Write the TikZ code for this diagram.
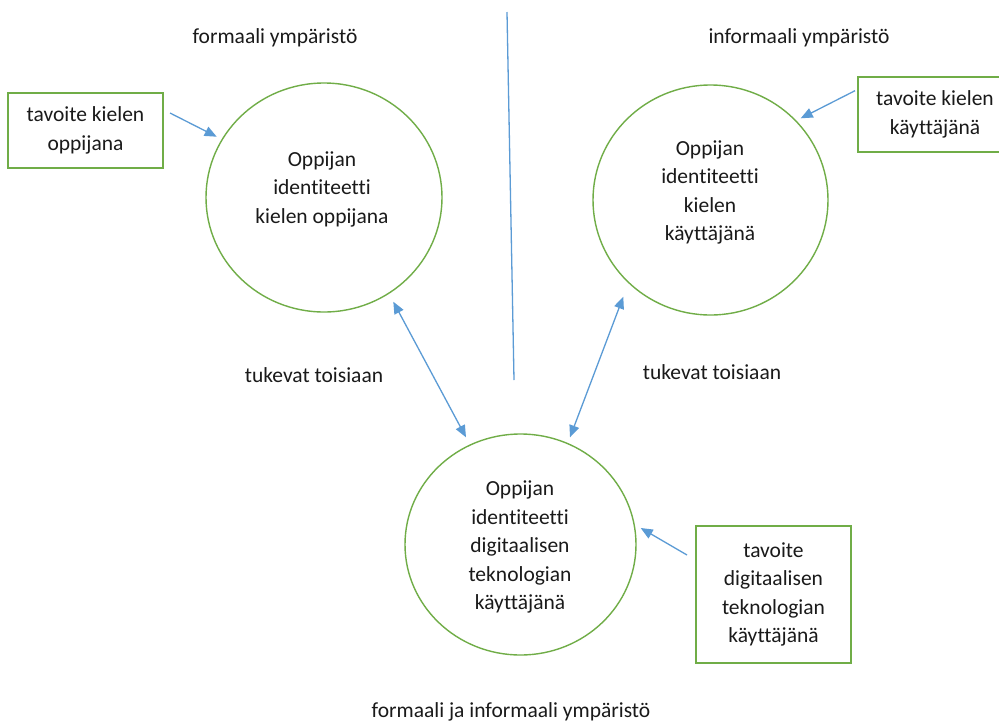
\documentclass[tikz,border=0pt]{standalone}
\usepackage{fontspec}
\setmainfont{Carlito}[Ligatures={NoCommon}]
\usetikzlibrary{arrows.meta,shapes.geometric}
\definecolor{ringgreen}{HTML}{70AD47}
\definecolor{linkblue}{HTML}{5B9BD5}
\definecolor{inktext}{HTML}{1A1A1A}
\tikzset{
  ring/.style={ellipse, draw=ringgreen, line width=1.4pt, inner sep=0pt},
  goalbox/.style={rectangle, draw=ringgreen, line width=1.4pt, inner sep=0pt,
    align=center, text=inktext, font=\fontsize{21.5}{28.5}\selectfont},
  txt/.style={align=center, text=inktext, font=\fontsize{21.5}{28.5}\selectfont, inner sep=0pt},
  link/.style={draw=linkblue, line width=1.3pt},
  onehead/.style={-{Triangle[length=12pt,width=10pt]}},
  twohead/.style={{Triangle[length=12pt,width=10pt]}-{Triangle[length=12pt,width=10pt]}},
}
\begin{document}
\begin{tikzpicture}[x=1pt,y=-1pt]
  \useasboundingbox (0,0) rectangle (999,724);
  \clip (0,0) rectangle (999,724);
  \fill[white] (0,0) rectangle (999,724);

  % identity circles
  \node[ring, minimum width=236pt, minimum height=229pt] (learner) at (324,197.5) {};
  \node[txt] (learnertext) at (322,189) {Oppijan\\identiteetti\\kielen oppijana};
  \node[ring, minimum width=235pt, minimum height=230pt] (user) at (710.5,200) {};
  \node[txt] (usertext) at (710,192.5) {Oppijan\\identiteetti\\kielen\\käyttäjänä};
  \node[ring, minimum width=231pt, minimum height=221pt] (digital) at (520.5,544.5) {};
  \node[txt] (digitaltext) at (520,547) {Oppijan\\identiteetti\\digitaalisen\\teknologian\\käyttäjänä};

  % goal boxes
  \node[goalbox, minimum width=155pt, minimum height=75pt] (goalA) at (85.5,130.5) {tavoite kielen\\oppijana};
  \node[goalbox, minimum width=154pt, minimum height=75pt] (goalB) at (935,114.5) {tavoite kielen\\käyttäjänä};
  \node[goalbox, minimum width=155pt, minimum height=137pt] (goalC) at (773.5,594.5) {tavoite\\digitaalisen\\teknologian\\käyttäjänä};

  % environment labels
  \node[txt] (envformal) at (275,38) {formaali ympäristö};
  \node[txt] (envinformal) at (799,38) {informaali ympäristö};
  \node[txt] (envboth) at (511,712) {formaali ja informaali ympäristö};
  \node[txt] (supportL) at (314,375) {tukevat toisiaan};
  \node[txt] (supportR) at (712,372) {tukevat toisiaan};

  % connector end points
  \coordinate (dividerTop) at (507,12);
  \coordinate (dividerBot) at (514,380);
  \coordinate (aStart) at (170,113);
  \coordinate (aEnd) at (216.7,136.7);
  \coordinate (bStart) at (855,90.7);
  \coordinate (bEnd) at (800.7,118.3);
  \coordinate (cStart) at (687,555);
  \coordinate (cEnd) at (640.7,528);
  \coordinate (lTop) at (393.3,301.7);
  \coordinate (lBot) at (466,437.3);
  \coordinate (rTop) at (623.3,296.7);
  \coordinate (rBot) at (570,437.3);

  % connectors
  \draw[link] (dividerTop) -- (dividerBot);
  \draw[link, onehead] (aStart) -- (aEnd);
  \draw[link, onehead] (bStart) -- (bEnd);
  \draw[link, onehead] (cStart) -- (cEnd);
  \draw[link, twohead] (lTop) -- (lBot);
  \draw[link, twohead] (rTop) -- (rBot);
\end{tikzpicture}
\end{document}
